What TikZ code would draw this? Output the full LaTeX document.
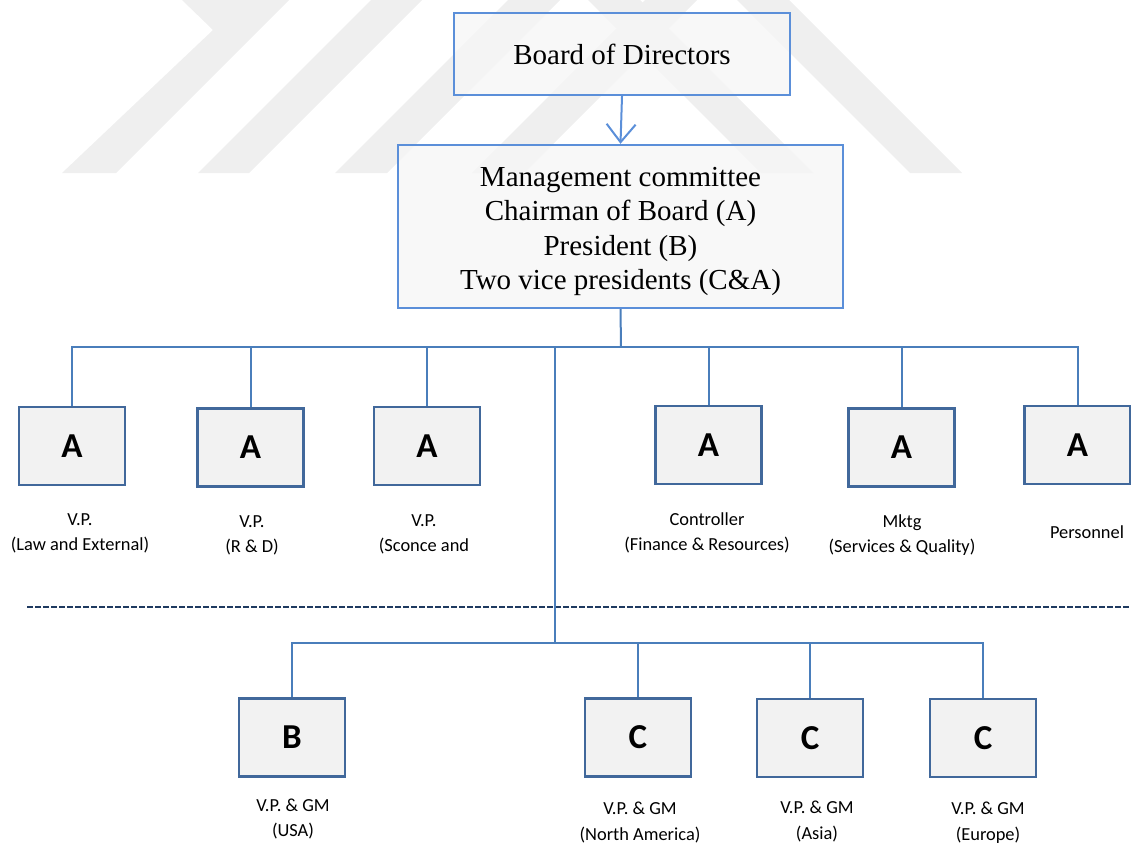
\documentclass[tikz,border=0pt]{standalone}
\usepackage{fontspec}
\setmainfont{Liberation Serif}
\newfontfamily\labelfont{Carlito}
\usetikzlibrary{arrows.meta}

\definecolor{topline}{RGB}{91,143,217}
\definecolor{topfill}{RGB}{246,246,246}
\definecolor{unitline}{RGB}{65,104,155}
\definecolor{unitfill}{RGB}{242,242,242}
\definecolor{linkcol}{RGB}{74,126,187}
\definecolor{dashcol}{RGB}{31,58,96}
\definecolor{markcol}{RGB}{239,239,239}

\tikzset{
  topbox/.style={draw=topline, fill=topfill, fill opacity=0.75, text opacity=1,
                 line width=2.4pt, inner sep=0pt,
                 align=center, font=\fontsize{29}{34.5}\selectfont},
  toptext/.style={inner sep=0pt, align=center, font=\fontsize{29}{34.5}\selectfont},
  unitbox/.style={draw=unitline, fill=unitfill, line width=2.8pt, inner sep=0pt,
                  minimum width=106pt, minimum height=78pt,
                  font=\labelfont\bfseries\fontsize{35}{40}\selectfont},
  caption/.style={inner sep=0pt, align=center,
                  font=\labelfont\fontsize{18.4}{25.5}\selectfont},
  link/.style={draw=linkcol, line width=2pt},
  divider/.style={draw=dashcol, line width=2pt, dash pattern=on 5.5pt off 2.5pt},
  bandmark/.style={fill=markcol, draw=none}
}

\begin{document}
\begin{tikzpicture}[x=1pt, y=-1pt]
\useasboundingbox (0,0) rectangle (1131,843);

% faint diagonal background bands
\fill[bandmark] (62,173) -- (116,173) -- (289,0) -- (182,0) -- (213,30) -- cycle;
\fill[bandmark] (198,173) -- (249,173) -- (422,0) -- (371,0) -- cycle;
\fill[bandmark] (335,173) -- (387,173) -- (560,0) -- (508,0) -- cycle;
\fill[bandmark] (472,173) -- (524,173) -- (697,0) -- (645,0) -- cycle;
\fill[bandmark] (761,173) -- (813,173) -- (640,0) -- (588,0) -- cycle;
\fill[bandmark] (910,173) -- (962,173) -- (789,0) -- (737,0) -- cycle;

% top of the hierarchy
\node[topbox, minimum width=336pt, minimum height=82pt] (board) at (622,54) {Board of Directors};
\node[topbox, minimum width=445pt, minimum height=163pt] (mgmt) at (620.5,226.5) {};
\node[toptext] (mgmttext) at (620.5,231.5)
  {Management committee\\Chairman of Board (A)\\President (B)\\Two vice presidents (C\&A)};
\draw[link, draw=topline, -{Straight Barb[length=18pt,width=29pt,line width=2pt]}] (board.south) -- (mgmt.north);

% corporate staff units
\node[unitbox] (a1) at (72,446) {A};
\node[unitbox] (a2) at (250.5,447.5) {A};
\node[unitbox] (a3) at (427,446) {A};
\node[unitbox] (a4) at (708.5,445) {A};
\node[unitbox] (a5) at (901.5,447.5) {A};
\node[unitbox] (a6) at (1077.5,445) {A};

\node[caption] (la1) at (80,533.5) {V.P.\\(Law and External)};
\node[caption] (la2) at (252,535.5) {V.P.\\(R \& D)};
\node[caption] (la3) at (424,534.5) {V.P.\\(Sconce and};
\node[caption] (la4) at (707,533) {Controller\\(Finance \& Resources)};
\node[caption] (la5) at (902,535) {Mktg\\(Services \& Quality)};
\node[caption] (la6) at (1087,532) {Personnel};

% upper bus
\coordinate (hub) at (621,347);
\coordinate (split) at (555,347);
\draw[link] (mgmt.south) -- (hub);
\foreach \u in {a1,a2,a3,a4,a5,a6}
  \draw[link] (\u.north) |- (hub);

% divider between staff and operating units
\coordinate (dl) at (27,607);
\coordinate (dr) at (1131,607);
\draw[divider] (dl) -- (dr);

% operating units
\node[unitbox] (b1) at (292,737.5) {B};
\node[unitbox] (c1) at (638,737.5) {C};
\node[unitbox] (c2) at (810,738) {C};
\node[unitbox] (c3) at (983,738) {C};

\node[caption] (lb1) at (293,819) {V.P. \& GM\\(USA)};
\node[caption] (lc1) at (640,822.5) {V.P. \& GM\\(North America)};
\node[caption] (lc2) at (817,821.5) {V.P. \& GM\\(Asia)};
\node[caption] (lc3) at (988,822.5) {V.P. \& GM\\(Europe)};

% lower bus
\coordinate (low) at (555,643);
\draw[link] (split) -- (low);
\foreach \u in {b1,c1,c2,c3}
  \draw[link] (\u.north) |- (low);
\end{tikzpicture}
\end{document}
